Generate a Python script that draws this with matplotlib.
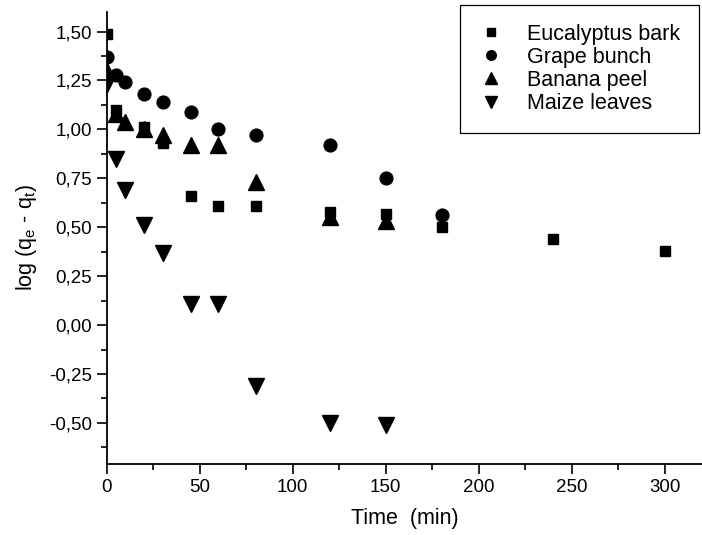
import matplotlib
matplotlib.use("Agg")
import matplotlib.pyplot as plt
from matplotlib.ticker import MultipleLocator, FuncFormatter

# First-order kinetic plot: log(qe - qt) versus contact time
time_eucalyptus = [0, 5, 20, 30, 45, 60, 80, 120, 150, 180, 240, 300]
eucalyptus = [1.49, 1.10, 1.01, 0.93, 0.66, 0.61, 0.61, 0.58, 0.57, 0.50, 0.44, 0.38]

time_grape = [0, 5, 10, 20, 30, 45, 60, 80, 120, 150, 180]
grape = [1.37, 1.28, 1.24, 1.18, 1.14, 1.09, 1.00, 0.97, 0.92, 0.75, 0.56]

time_banana = [0, 5, 10, 20, 30, 45, 60, 80, 120, 150]
banana = [1.30, 1.08, 1.04, 1.00, 0.97, 0.92, 0.92, 0.73, 0.55, 0.53]

time_maize = [0, 5, 10, 20, 30, 45, 60, 80, 120, 150]
maize = [1.23, 0.85, 0.69, 0.51, 0.37, 0.11, 0.11, -0.31, -0.50, -0.51]

labels = ["Eucalyptus bark", "Grape bunch", "Banana peel", "Maize leaves"]

plt.rcParams["font.family"] = ["Liberation Sans", "DejaVu Sans"]
plt.rcParams["mathtext.fontset"] = "custom"
plt.rcParams["mathtext.rm"] = "Liberation Sans"
plt.rcParams["mathtext.it"] = "Liberation Sans"
plt.rcParams["mathtext.bf"] = "Liberation Sans"
plt.rcParams["mathtext.default"] = "regular"

fig = plt.figure(figsize=(7.02, 5.35), dpi=100)
ax = fig.add_axes([106.8 / 702, 71 / 535, (702 - 106.8) / 702, 452 / 535])

ax.plot(time_eucalyptus, eucalyptus, ls="none", marker="s", ms=7.6, color="black", label=labels[0])
ax.plot(time_grape, grape, ls="none", marker="o", ms=9.2, color="black", label=labels[1])
ax.plot(time_banana, banana, ls="none", marker="^", ms=11.5, color="black", label=labels[2])
ax.plot(time_maize, maize, ls="none", marker="v", ms=11.5, color="black", label=labels[3])

ax.set_xlim(0, 320)
ax.set_ylim(-0.71, 1.60)

ax.spines["top"].set_visible(False)
ax.spines["right"].set_visible(False)
for side in ("left", "bottom"):
    ax.spines[side].set_linewidth(1.3)

ax.xaxis.set_major_locator(MultipleLocator(50))
ax.xaxis.set_minor_locator(MultipleLocator(25))
ax.yaxis.set_major_locator(MultipleLocator(0.25))
ax.yaxis.set_minor_locator(MultipleLocator(0.125))
ax.yaxis.set_major_formatter(FuncFormatter(lambda v, p: f"{v:.2f}".replace(".", ",")))

ax.tick_params(which="major", direction="out", length=7, width=1.2, labelsize=13.5, pad=3.5)
ax.tick_params(which="minor", direction="out", length=4, width=1.2)

ax.set_xlabel("Time  (min)", fontsize=15.5, labelpad=9)
ax.set_ylabel("log (q$_e$ - q$_t$)", fontsize=15.5, labelpad=7)

leg = ax.legend(loc="upper right", bbox_to_anchor=(699 / 702, 1 - 5 / 535),
                bbox_transform=fig.transFigure, fontsize=15.5, frameon=True,
                fancybox=False, edgecolor="black", framealpha=1,
                labelspacing=0.1, handlelength=1.15, handletextpad=1.1,
                borderpad=0.87, borderaxespad=0, markerscale=0.75)
leg.get_frame().set_linewidth(0.9)

fig.savefig("out.png", dpi=100)
